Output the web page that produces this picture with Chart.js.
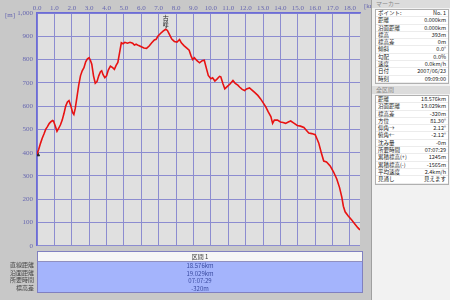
<!DOCTYPE html>
<html>
<head>
<meta charset="utf-8">
<script src="https://cdn.jsdelivr.net/npm/chart.js@4/dist/chart.umd.min.js"></script>
<style>
  html, body { margin: 0; padding: 0; }
  body { width: 450px; height: 300px; overflow: hidden; position: relative; background: #c8c8c8; font-family: "Noto Sans CJK JP", "DejaVu Sans", sans-serif; }
  #chart { position: absolute; left: 0; top: 0; }
  .unit { position: absolute; font: 7px "Liberation Serif", serif; color: #6868b0; }
  #tbl { position: absolute; left: 37px; top: 251px; width: 326px; border: 1px solid #8080c0; box-sizing: border-box; }
  #tbl .hd { height: 9px; background: #f6f6f6; text-align: center; font-size: 6px; line-height: 9px; color: #333; border-bottom: 1px solid #9090c0; }
  #tbl .rw { height: 7.5px; background: #a4b4fc; text-align: center; font-size: 6px; line-height: 7.5px; color: #3a4aa0; }
  #lbl { position: absolute; left: 0; top: 261px; width: 34px; text-align: right; }
  #lbl div { height: 7.5px; font-size: 6px; line-height: 7.5px; color: #444; }
  #side { position: absolute; left: 371px; top: 0; width: 79px; height: 300px; background: #f2f2f2; border-left: 1px solid #a0a0a0; }
  #side .ttl { height: 8px; font-size: 6px; line-height: 8px; color: #888; padding-left: 4px; background: #dcdcdc; }
  #side .box { margin: 1px 2px 0 3px; background: #fff; border: 1px solid #b0b0b0; }
  #side .r { height: 6.3px; font-size: 5.5px; line-height: 6.3px; color: #222; display: flex; justify-content: space-between; padding: 0 2px; border-bottom: 1px solid #ececec; }
</style>
</head>
<body>
<canvas id="chart" width="365" height="254"></canvas>
<div class="unit" style="left:5px;top:11px;">[m]</div>
<div class="unit" style="left:364px;top:2px;">[km]</div>

<div id="tbl">
  <div class="hd">区間 1</div>
  <div id="tblRows"></div>
</div>
<div id="lbl"></div>

<div id="side">
  <div class="ttl">マーカー</div>
  <div class="box" id="markerBox"></div>
  <div class="ttl" style="margin-top:2px;">全区間</div>
  <div class="box" id="totalBox"></div>
</div>

<script>
// profile data (distance km / elevation m)
var distKm = [0.00, 0.10, 0.20, 0.30, 0.40, 0.50, 0.60, 0.70, 0.80, 0.90, 0.95, 1.05, 1.15, 1.25, 1.35, 1.45, 1.55, 1.65, 1.75, 1.84,
  1.95, 2.05, 2.12, 2.20, 2.30, 2.40, 2.50, 2.60, 2.70, 2.80, 2.90, 3.00, 3.08, 3.15, 3.25, 3.35, 3.45, 3.55, 3.65, 3.72,
  3.80, 3.90, 4.00, 4.10, 4.22, 4.35, 4.45, 4.55, 4.65, 4.75, 4.85, 4.95, 5.05, 5.20, 5.35, 5.50, 5.60, 5.70, 5.85, 6.00,
  6.15, 6.30, 6.45, 6.60, 6.75, 6.85, 6.95, 7.10, 7.25, 7.40, 7.50, 7.60, 7.75, 7.90, 8.05, 8.20, 8.30, 8.45, 8.60, 8.75,
  8.85, 8.95, 9.05, 9.20, 9.35, 9.50, 9.62, 9.75, 9.85, 10.00, 10.10, 10.23, 10.35, 10.50, 10.57, 10.70, 10.80, 10.95, 11.10, 11.27,
  11.40, 11.55, 11.65, 11.80, 11.94, 12.05, 12.22, 12.35, 12.50, 12.70, 12.85, 13.00, 13.15, 13.30, 13.45, 13.55, 13.65, 13.83, 14.00, 14.15,
  14.30, 14.45, 14.59, 14.75, 14.97, 15.15, 15.35, 15.50, 15.63, 15.80, 16.00, 16.10, 16.20, 16.35, 16.49, 16.65, 16.86, 17.05, 17.24, 17.40,
  17.53, 17.62, 17.72, 17.90, 18.10, 18.30, 18.45, 18.576];
var elevM = [393, 415, 440, 462, 480, 500, 512, 525, 533, 538, 536, 515, 492, 505, 520, 540, 568, 600, 618, 624,
  600, 572, 564, 590, 640, 690, 730, 752, 765, 790, 803, 808, 795, 780, 730, 698, 705, 730, 748, 752,
  735, 722, 730, 755, 772, 765, 758, 775, 788, 830, 872, 868, 874, 870, 874, 870, 862, 866, 860, 855,
  850, 848, 858, 872, 884, 887, 900, 912, 922, 930, 925, 910, 888, 878, 875, 886, 872, 860, 850, 840,
  818, 800, 808, 795, 786, 795, 797, 760, 732, 718, 722, 708, 716, 728, 726, 695, 674, 685, 695, 710,
  698, 690, 682, 672, 667, 674, 678, 670, 660, 646, 632, 615, 598, 575, 555, 526, 540, 540, 532, 530,
  526, 532, 536, 528, 517, 514, 508, 495, 484, 482, 477, 460, 442, 400, 364, 360, 343, 318, 287, 250,
  209, 170, 146, 128, 111, 92, 78, 68];

var xTicks = [0, 1, 2, 3, 4, 5, 6, 7, 8, 9, 10, 11, 12, 13, 14, 15, 16, 17, 18];
var yTicks = [0, 100, 200, 300, 400, 500, 600, 700, 800, 900, 1000];
var summitName = '古峰';
var summitIdx = 69;

var sectionLabels = ['直線距離', '沿面距離', '所要時間', '標高差'];
var sectionValues = ['18.576km', '19.029km', '07:07:29', '-320m'];

var markerRows = [['ポイント:', 'No. 1'], ['距離', '0.000km'], ['沿面距離', '0.000km'], ['標高', '393m'], ['標高差', '0m'],
  ['傾斜', '0.0°'], ['勾配', '0.0%'], ['速度', '0.0km/h'], ['日付', '2007/06/23'], ['時刻', '09:09:00']];
var totalRows = [['距離', '18.576km'], ['沿面距離', '19.029km'], ['標高差', '-320m'], ['方位', '81.30°'], ['仰角→', '2.12°'],
  ['俯角←', '-2.12°'], ['沈み量', '-0m'], ['所要時間', '07:07:29'], ['累積標高(+)', '1245m'], ['累積標高(-)', '-1565m'],
  ['平均速度', '2.4km/h'], ['見通し', '見えます']];

function rowsHtml(rows) {
  var html = '';
  for (var i = 0; i < rows.length; i++) html += '<div class="r"><span>' + rows[i][0] + '</span><span>' + rows[i][1] + '</span></div>';
  return html;
}
document.getElementById('markerBox').innerHTML = rowsHtml(markerRows);
document.getElementById('totalBox').innerHTML = rowsHtml(totalRows);
document.getElementById('tblRows').innerHTML = sectionValues.map(function(v) { return '<div class="rw">' + v + '</div>'; }).join('');
document.getElementById('lbl').innerHTML = sectionLabels.map(function(v) { return '<div>' + v + '</div>'; }).join('');

var profile = distKm.map(function(d, i) { return { x: d, y: elevM[i] }; });

var plotBg = {
  id: 'plotBg',
  beforeDraw: function(chart) {
    var a = chart.chartArea, ctx = chart.ctx;
    ctx.save();
    ctx.fillStyle = '#e0e0e0';
    ctx.fillRect(a.left, a.top, a.right - a.left, a.bottom - a.top);
    ctx.restore();
  },
  afterDatasetsDraw: function(chart) {
    var ctx = chart.ctx, xs = chart.scales.x, ys = chart.scales.y;
    var px = xs.getPixelForValue(distKm[summitIdx]), py = ys.getPixelForValue(elevM[summitIdx]);
    ctx.save();
    ctx.fillStyle = '#222';
    ctx.font = '6px "Noto Sans CJK JP"';
    ctx.textAlign = 'center';
    ctx.textBaseline = 'top';
    ctx.fillText(summitName.charAt(0), px, ys.top + 2);
    ctx.fillText(summitName.charAt(1), px, ys.top + 8);
    ctx.strokeStyle = '#333';
    ctx.lineWidth = 1;
    ctx.beginPath(); ctx.moveTo(px + 0.5, ys.top + 14); ctx.lineTo(px + 0.5, py - 1); ctx.stroke();
    ctx.restore();
  }
};

new Chart(document.getElementById('chart'), {
  type: 'scatter',
  data: {
    datasets: [
      { data: profile, showLine: true, borderColor: '#e81212', borderWidth: 1.6, pointRadius: 0, tension: 0 },
      { data: [profile[0]], pointStyle: 'triangle', pointRadius: 3, backgroundColor: '#222', borderColor: '#222' }
    ]
  },
  options: {
    responsive: false,
    animation: false,
    layout: { padding: { top: 0, right: 2, bottom: 0, left: 0 } },
    plugins: { legend: { display: false }, tooltip: { enabled: false } },
    scales: {
      x: {
        type: 'linear', position: 'top', min: 0, max: 18.576,
        afterBuildTicks: function(s) { s.ticks = xTicks.map(function(v) { return { value: v }; }); },
        afterFit: function(s) { s.height = 13; },
        ticks: { color: '#6868b0', font: { family: 'Liberation Serif', size: 7 }, padding: 1, maxRotation: 0, autoSkip: false,
          callback: function(v) { return v.toFixed(1); } },
        grid: { color: '#8c8cd0', lineWidth: 1, drawTicks: false },
        border: { color: '#6c6cd8', width: 1.5 }
      },
      y: {
        min: 0, max: 1000,
        afterBuildTicks: function(s) { s.ticks = yTicks.map(function(v) { return { value: v }; }); },
        afterFit: function(s) { s.width = 37; },
        ticks: { color: '#6868b0', font: { family: 'Liberation Serif', size: 7 }, padding: 4, autoSkip: false },
        grid: { color: '#8c8cd0', lineWidth: 1, drawTicks: false },
        border: { color: '#6c6cd8', width: 1.5 }
      }
    }
  },
  plugins: [plotBg]
});
</script>
</body>
</html>
